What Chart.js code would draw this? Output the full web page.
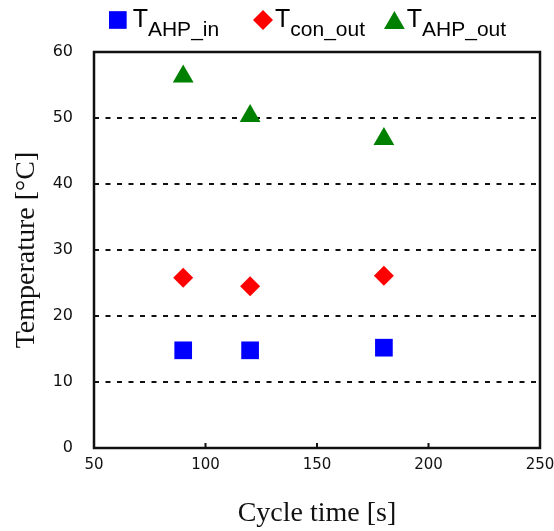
<!DOCTYPE html>
<html>
<head>
<meta charset="utf-8">
<script src="https://cdn.jsdelivr.net/npm/chart.js"></script>
<style>
  html, body { margin: 0; padding: 0; background: #fff; }
  #temp-chart { display: block; }
</style>
</head>
<body>
<canvas id="temp-chart" width="554" height="531"></canvas>
<script>
// cycle time [s]
var cycleTime = [90, 120, 180];
// temperatures [°C]
var tAhpIn = [14.8, 14.8, 15.2];
var tConOut = [25.8, 24.5, 26.1];
var tAhpOut = [56.3, 50.3, 46.8];

// legend: "T" + subscript
var seriesSubs = ["AHP_in", "con_out", "AHP_out"];
var seriesColors = ["#0000ff", "#ff0000", "#008000"];
var seriesStyles = ["rect", "rectRot", "triangle"];
var seriesRadius = [12.5, 10, 12];
var legendX = [109, 253, 384];
var legendGap = [6, 2, 2];

function toPoints(ys) {
  return cycleTime.map(function (t, i) {
    return { x: t, y: ys[i] };
  });
}

function drawMarker(ctx, style, x, y, r) {
  ctx.beginPath();
  if (style == "rect") {
    var s = Math.SQRT1_2 * r;
    ctx.rect(x - s, y - s, 2 * s, 2 * s);
  } else if (style == "rectRot") {
    ctx.moveTo(x - r, y);
    ctx.lineTo(x, y - r);
    ctx.lineTo(x + r, y);
    ctx.lineTo(x, y + r);
    ctx.closePath();
  } else {
    ctx.moveTo(x, y - r);
    ctx.lineTo(x + Math.sin(Math.PI * 2 / 3) * r, y + r / 2);
    ctx.lineTo(x - Math.sin(Math.PI * 2 / 3) * r, y + r / 2);
    ctx.closePath();
  }
  ctx.fill();
}

// plot frame and short inward ticks
var framePlugin = {
  id: "frame",
  beforeDatasetsDraw: function (chart) {
    var ctx = chart.ctx;
    var a = chart.chartArea;
    var xs = chart.scales.x;
    var ys = chart.scales.y;
    ctx.save();
    ctx.strokeStyle = "#111";
    ctx.lineWidth = 2;
    ctx.beginPath();
    ys.ticks.forEach(function (t) {
      var py = ys.getPixelForValue(t.value);
      ctx.moveTo(a.left, py);
      ctx.lineTo(a.left + 5, py);
    });
    xs.ticks.forEach(function (t) {
      var px = xs.getPixelForValue(t.value);
      ctx.moveTo(px, a.bottom);
      ctx.lineTo(px, a.bottom - 5);
    });
    ctx.stroke();
    ctx.lineWidth = 2.5;
    ctx.strokeRect(a.left, a.top, a.right - a.left, a.bottom - a.top);
    ctx.restore();
  }
};

// legend with subscripts, across the top
var legendPlugin = {
  id: "subLegend",
  afterDraw: function (chart) {
    var ctx = chart.ctx;
    ctx.save();
    seriesSubs.forEach(function (sub, i) {
      var r = seriesRadius[i];
      var w = seriesStyles[i] == "rect" ? 2 * Math.SQRT1_2 * r : (seriesStyles[i] == "rectRot" ? 2 * r : Math.sqrt(3) * r);
      var mx = legendX[i] + w / 2;
      var my = seriesStyles[i] == "triangle" ? 23 : 20;
      ctx.fillStyle = seriesColors[i];
      drawMarker(ctx, seriesStyles[i], mx, my, r);
      var tx = legendX[i] + w + legendGap[i];
      ctx.fillStyle = "#000";
      ctx.textBaseline = "alphabetic";
      ctx.textAlign = "left";
      ctx.font = "25px 'Liberation Sans'";
      ctx.fillText("T", tx, 27);
      tx += ctx.measureText("T").width;
      ctx.font = "21px 'Liberation Sans'";
      ctx.fillText(sub, tx, 36);
    });
    ctx.restore();
  }
};

var ctx = document.getElementById("temp-chart");

window.tempChart = new Chart(ctx, {
  type: "scatter",
  data: {
    datasets: [
      {
        label: "TAHP_in",
        data: toPoints(tAhpIn),
        pointStyle: "rect",
        pointRadius: 12.5,
        pointHoverRadius: 12.5,
        backgroundColor: "#0000ff",
        borderWidth: 0,
      },
      {
        label: "Tcon_out",
        data: toPoints(tConOut),
        pointStyle: "rectRot",
        pointRadius: 10,
        pointHoverRadius: 10,
        backgroundColor: "#ff0000",
        borderWidth: 0,
      },
      {
        label: "TAHP_out",
        data: toPoints(tAhpOut),
        pointStyle: "triangle",
        pointRadius: 12,
        pointHoverRadius: 12,
        backgroundColor: "#008000",
        borderWidth: 0,
      },
    ],
  },
  options: {
    responsive: false,
    animation: false,
    devicePixelRatio: 1,
    layout: {
      autoPadding: false,
      padding: { left: 0, top: 52, right: 14, bottom: 0 },
    },
    plugins: {
      legend: { display: false },
      tooltip: { enabled: false },
    },
    scales: {
      x: {
        type: "linear",
        min: 50,
        max: 250,
        afterFit: function (scale) {
          scale.height = 83;
          // let the end labels hang over the frame
          scale.paddingLeft = 0;
          scale.paddingRight = 0;
        },
        ticks: {
          stepSize: 50,
          padding: 8,
          color: "#111",
          font: { family: "DejaVu Sans", size: 15 },
        },
        grid: { display: false, drawTicks: false },
        border: { display: false },
        title: {
          display: true,
          text: "Cycle time [s]",
          color: "#111",
          font: { family: "Liberation Serif", size: 28 },
          padding: { top: 0, bottom: 1 },
        },
      },
      y: {
        min: 0,
        max: 60,
        afterFit: function (scale) {
          scale.width = 94;
          scale.paddingTop = 0;
          scale.paddingBottom = 0;
        },
        ticks: {
          stepSize: 10,
          padding: 21,
          color: "#111",
          font: { family: "DejaVu Sans", size: 16 },
        },
        grid: {
          drawTicks: false,
          lineWidth: 2,
          color: function (c) {
            if (!c.tick || c.tick.value == 0 || c.tick.value == 60) {
              return "rgba(0,0,0,0)";
            }
            return "#111";
          },
        },
        border: { display: false, dash: [5, 6.5] },
        title: {
          display: true,
          text: "Temperature [°C]",
          color: "#111",
          font: { family: "Liberation Serif", size: 28 },
          padding: { top: 10, bottom: 0 },
        },
      },
    },
  },
  plugins: [framePlugin, legendPlugin],
});
</script>
</body>
</html>
